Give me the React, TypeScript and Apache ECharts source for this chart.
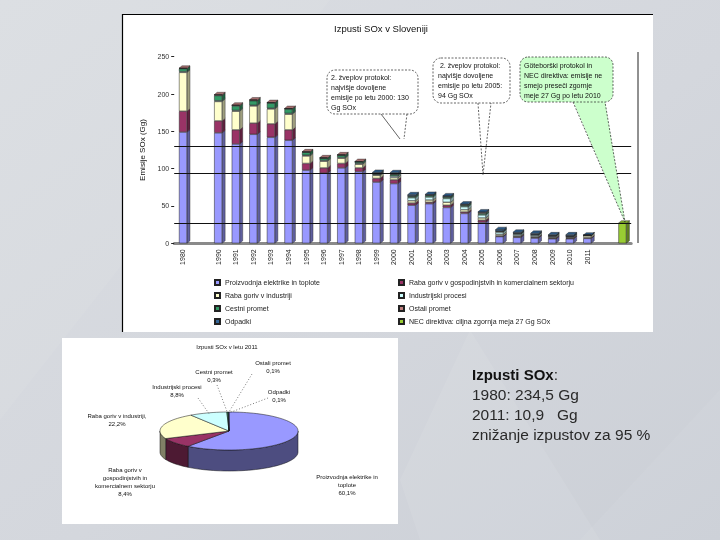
import React, { useEffect, useRef } from 'react';
import * as echarts from 'echarts';

// ---------- data ----------
const categories = ['1980', 'gapA', '1990', '1991', '1992', '1993', '1994', '1995', '1996', '1997', '1998', '1999', '2000', '2001', '2002', '2003', '2004', '2005', '2006', '2007', '2008', '2009', '2010', '2011', 'gapB', 'NEC'];

// values per year: 1980, 1990 ... 2011 (Gg SOx)
const proizvodnja = [149, 148, 133, 146, 142, 138, 98, 94, 101, 96, 82, 80, 51, 53, 48, 40, 28, 9, 8, 7, 6, 6, 6.55];
const gospodinjstva = [28, 16, 19, 15, 18, 14, 9, 7, 6, 5, 5, 5, 3, 2, 3, 2, 3, 1, 1, 1, 1, 1, 0.92];
const industrija = [52, 26, 25, 23, 20, 21, 10, 9, 7, 5, 4, 3, 3, 3, 4, 3, 3, 2, 1, 1, 1, 1, 2.42];
const procesi = [1, 1, 1, 1, 1, 1, 1, 1, 1, 1, 1, 2, 4, 4, 5, 4, 4, 3, 2, 2, 1.5, 1, 0.96];
const cestni = [4, 7, 6, 6, 7, 6, 4, 3, 3, 2, 1, 2, 2, 2, 2, 2, 2, 1, 1, 0.5, 0.5, 0.5, 0.03];
const ostali = [0.5, 1, 1, 1, 0.5, 0.5, 0.5, 0.5, 0.5, 0.5, 0.5, 0.5, 0.5, 0.5, 0.5, 0.5, 1, 0.3, 0.3, 0.3, 0.3, 0.3, 0.01];
const odpadki = [0, 0, 0, 0, 0, 0, 0, 0, 0, 0, 1.5, 2, 1.5, 1, 1, 1, 1, 2, 1.5, 1.5, 1, 1.5, 0.01];
const necTarget = 27;
const limits = [130, 94, 27];

const seriesNames = [
  'Proizvodnja elektrike in toplote',
  'Raba goriv v gospodinjstvih in komercialnem sektorju',
  'Raba goriv v industriji',
  'Industrijski procesi',
  'Cestni promet',
  'Ostali promet',
  'Odpadki',
];
const necName = 'NEC direktiva: ciljna zgornja meja 27 Gg SOx';
const colors = ['#9999FF', '#993366', '#FFFFCC', '#CCFFFF', '#339966', '#C08080', '#336699'];
const necColor = '#99CC33';

// pie 2011 (%)
const pieShares = [60.1, 8.4, 22.2, 8.8, 0.3, 0.1, 0.1];
const pieLabelLines = [
  ['Proizvodnja elektrike in', 'toplote'],
  ['Raba goriv v', 'gospodinjstvih in', 'komercialnem sektorju'],
  ['Raba goriv v industriji,'],
  ['Industrijski procesi'],
  ['Cestni promet'],
  ['Ostali promet'],
  ['Odpadki'],
];

// ---------- layout (not data) ----------
const pieLabelPos = [
  { x: 347, y: 473, lx: null, ly: null },
  { x: 125, y: 466, lx: null, ly: null },
  { x: 117, y: 412, lx: null, ly: null },
  { x: 177, y: 383, lx: 198, ly: 398 },
  { x: 214, y: 368, lx: 217, ly: 385 },
  { x: 273, y: 359, lx: 252, ly: 374 },
  { x: 279, y: 388, lx: 268, ly: 398 },
];
const PIE = { cx: 229, cy: 431, rx: 69, ry: 19, depth: 21 };
const BAR_W = 8;
const DEPTH_X = 3;
const DEPTH_Y = 2.5;

function toSlots(arr: number[]) {
  return [arr[0], null, ...arr.slice(1), null, null];
}

function shade(hex: string, f: number) {
  const n = parseInt(hex.slice(1), 16);
  const r = Math.round(((n >> 16) & 255) * f);
  const g = Math.round(((n >> 8) & 255) * f);
  const b = Math.round((n & 255) * f);
  return `rgb(${r},${g},${b})`;
}

function arcPts(a0: number, a1: number, dy: number) {
  const pts: number[][] = [];
  const n = Math.max(2, Math.ceil(Math.abs(a1 - a0) / 3));
  for (let i = 0; i <= n; i++) {
    const a = ((a0 + ((a1 - a0) * i) / n) * Math.PI) / 180;
    pts.push([PIE.cx + PIE.rx * Math.cos(a), PIE.cy + PIE.ry * Math.sin(a) + dy]);
  }
  return pts;
}

export default function App() {
  const ref = useRef<HTMLDivElement>(null);
  useEffect(() => {
    if (!ref.current) return;
    const chart = echarts.init(ref.current, undefined, { renderer: 'svg' });
    const font = 'Liberation Sans, Arial, sans-serif';

    const stacks = [proizvodnja, gospodinjstva, industrija, procesi, cestni, ostali, odpadki];
    const slotStacks = stacks.map(toSlots);
    const necSlots = categories.map((c) => (c === 'NEC' ? necTarget : null));
    const allSlots = [...slotStacks, necSlots];
    const allColors = [...colors, necColor];

    const barSeries: any[] = allSlots.map((arr, i) => ({
      name: i < 7 ? seriesNames[i] : necName,
      type: 'bar',
      stack: 'sox',
      barWidth: BAR_W,
      data: arr,
      itemStyle: { color: allColors[i], borderColor: '#222', borderWidth: 0.5 },
      z: 3,
      ...(i === 0
        ? {
            markLine: {
              silent: true,
              symbol: ['none', 'none'],
              label: { show: false },
              lineStyle: { color: '#111', width: 1, type: 'solid' },
              data: limits.map((v) => ({ yAxis: v })),
            },
          }
        : {}),
    }));

    // 3D side / top faces of the stacked bars, computed from the same values
    const depthData: any[] = [];
    categories.forEach((_, j) => {
      const vals = allSlots.map((a) => (a[j] == null ? 0 : (a[j] as number)));
      if (vals.some((v) => v > 0)) depthData.push([j, ...vals]);
    });
    const depthSeries = {
      type: 'custom',
      name: 'depth',
      silent: true,
      z: 2,
      data: depthData,
      encode: { x: 0, y: 1 },
      renderItem: (params: any, api: any) => {
        const j = api.value(0);
        const children: any[] = [];
        let base = 0;
        let topIdx = -1;
        let xr = 0;
        for (let k = 0; k < allSlots.length; k++) {
          const v = api.value(k + 1);
          if (!v) continue;
          const p0 = api.coord([j, base]);
          const p1 = api.coord([j, base + v]);
          xr = p0[0] + BAR_W / 2;
          children.push({
            type: 'polygon',
            shape: { points: [[xr, p1[1]], [xr + DEPTH_X, p1[1] - DEPTH_Y], [xr + DEPTH_X, p0[1] - DEPTH_Y], [xr, p0[1]]] },
            style: { fill: shade(allColors[k], 0.62), stroke: '#222', lineWidth: 0.4 },
          });
          base += v;
          topIdx = k;
        }
        if (topIdx >= 0) {
          const pt = api.coord([j, base]);
          const xl = pt[0] - BAR_W / 2;
          children.push({
            type: 'polygon',
            shape: { points: [[xl, pt[1]], [xl + DEPTH_X, pt[1] - DEPTH_Y], [xr + DEPTH_X, pt[1] - DEPTH_Y], [xr, pt[1]]] },
            style: { fill: shade(allColors[topIdx], 0.85), stroke: '#222', lineWidth: 0.4 },
          });
        }
        return { type: 'group', children };
      },
    };

    const total = pieShares.reduce((a, b) => a + b, 0);
    const cum: number[] = [];
    pieShares.reduce((acc, v, i) => {
      cum[i] = acc;
      return acc + v;
    }, 0);
    const pieData = pieShares.map((v, i) => [v, cum[i]]);

    const angles = (api: any) => {
      const v = api.value(0);
      const c = api.value(1);
      const a0 = -90 + (360 * c) / total;
      const a1 = a0 + (360 * v) / total;
      return [a0, a1];
    };

    const pieSide = {
      type: 'custom',
      name: 'pieSide',
      coordinateSystem: 'none',
      silent: true,
      z: 3,
      data: pieData,
      renderItem: (params: any, api: any) => {
        const [a0, a1] = angles(api);
        const s = Math.max(a0, 0);
        const e = Math.min(a1, 180);
        if (s >= e) return { type: 'group', children: [] };
        const pts = [...arcPts(s, e, 0), ...arcPts(s, e, PIE.depth).reverse()];
        return {
          type: 'polygon',
          shape: { points: pts },
          style: { fill: shade(colors[params.dataIndex], 0.5), stroke: '#111', lineWidth: 0.5 },
        };
      },
    };

    const pieTop = {
      type: 'custom',
      name: 'pieTop',
      coordinateSystem: 'none',
      silent: true,
      z: 4,
      data: pieData,
      renderItem: (params: any, api: any) => {
        const i = params.dataIndex;
        const [a0, a1] = angles(api);
        const pts = [[PIE.cx, PIE.cy], ...arcPts(a0, a1, 0)];
        const children: any[] = [
          {
            type: 'polygon',
            shape: { points: pts },
            style: { fill: colors[i], stroke: '#111', lineWidth: 0.5 },
          },
        ];
        const pos = pieLabelPos[i];
        const pct = api.value(0).toFixed(1).replace('.', ',') + '%';
        children.push({
          type: 'text',
          style: {
            text: [...pieLabelLines[i], pct].join('\n'),
            x: pos.x,
            y: pos.y,
            align: 'center',
            verticalAlign: 'top',
            fontSize: 6,
            lineHeight: 8,
            fontFamily: font,
            fill: '#111',
          },
        });
        if (pos.lx != null) {
          const mid = (((a0 + a1) / 2) * Math.PI) / 180;
          children.push({
            type: 'line',
            shape: {
              x1: pos.lx,
              y1: pos.ly,
              x2: PIE.cx + PIE.rx * 0.95 * Math.cos(mid),
              y2: PIE.cy + PIE.ry * 0.95 * Math.sin(mid),
            },
            style: { stroke: '#222', lineWidth: 0.6, lineDash: [1, 2] },
          });
        }
        return { type: 'group', children };
      },
    };

    const calloutText = (x: number, y: number, text: string) => ({
      type: 'text',
      z: 101,
      style: { text, x, y, fontSize: 7, lineHeight: 10, fontFamily: font, fill: '#111', align: 'left', verticalAlign: 'top' },
    });
    const dashed = { stroke: '#222', lineWidth: 0.7, lineDash: [2, 1.5] };

    const graphics: any[] = [
      // slide background
      {
        type: 'rect', z: -100, shape: { x: 0, y: 0, width: 720, height: 540 },
        style: {
          fill: { type: 'linear', x: 0, y: 0, x2: 1, y2: 1, colorStops: [
            { offset: 0, color: '#DADDE2' }, { offset: 0.55, color: '#D4D7DD' }, { offset: 1, color: '#CBCFD6' },
          ] },
        },
      },
      { type: 'polygon', z: -99, shape: { points: [[0, 0], [330, 0], [0, 420]] }, style: { fill: 'rgba(255,255,255,0.06)' } },
      { type: 'polygon', z: -99, shape: { points: [[470, 330], [400, 480], [420, 540], [600, 540]] }, style: { fill: 'rgba(255,255,255,0.08)' } },
      { type: 'polygon', z: -99, shape: { points: [[720, 390], [580, 540], [720, 540]] }, style: { fill: 'rgba(255,255,255,0.05)' } },
      // panels
      { type: 'rect', z: -50, shape: { x: 122, y: 14, width: 531, height: 318 }, style: { fill: '#FFFFFF' } },
      { type: 'polyline', z: -49, shape: { points: [[122.5, 332], [122.5, 14.5], [653, 14.5]] }, style: { stroke: '#000', lineWidth: 1.2, fill: null } },
      { type: 'rect', z: -50, shape: { x: 62, y: 338, width: 336, height: 186 }, style: { fill: '#FFFFFF' } },
      // right wall of the bar chart
      { type: 'line', z: -40, shape: { x1: 638, y1: 52, x2: 638, y2: 243 }, style: { stroke: '#222', lineWidth: 1 } },
      // callout 1
      { type: 'rect', z: 100, shape: { x: 327, y: 70, width: 91, height: 44, r: 8 }, style: { fill: '#FFFFFF', ...dashed } },
      { type: 'polyline', z: 100, shape: { points: [[381, 114], [400, 139]] }, style: { stroke: '#222', lineWidth: 0.7, fill: null } },
      { type: 'polyline', z: 100, shape: { points: [[407, 114], [404, 139]] }, style: { ...dashed, fill: null } },
      calloutText(331, 72, '2. žveplov protokol:\nnajvišje dovoljene\nemisije po letu 2000: 130\nGg SOx'),
      // callout 2
      { type: 'rect', z: 100, shape: { x: 433, y: 58, width: 77, height: 45, r: 8 }, style: { fill: '#FFFFFF', ...dashed } },
      { type: 'polyline', z: 100, shape: { points: [[478, 103], [483, 175], [491, 103]] }, style: { ...dashed, fill: null } },
      calloutText(438, 60, ' 2. žveplov protokol:\nnajvišje dovoljene\nemisije po letu 2005:\n94 Gg SOx'),
      // callout 3 (green)
      { type: 'polygon', z: 99, shape: { points: [[573, 101], [625, 222], [605, 101]] }, style: { fill: '#CCFFCC' } },
      { type: 'polyline', z: 100, shape: { points: [[573, 102], [625, 222], [605, 102]] }, style: { ...dashed, fill: null } },
      { type: 'rect', z: 100, shape: { x: 520, y: 57, width: 93, height: 45, r: 8 }, style: { fill: '#CCFFCC', ...dashed } },
      calloutText(524, 60, 'Göteborški protokol in\nNEC direktiva: emisije ne\nsmejo preseči zgornje\nmeje 27 Gg po letu 2010'),
      // pie title
      { type: 'text', z: 100, style: { text: 'Izpusti SOx v letu 2011', x: 227, y: 344, align: 'center', verticalAlign: 'top', fontSize: 6, fontFamily: font, fill: '#111' } },
      // right side text
      {
        type: 'text', z: 100,
        style: {
          text: '{b|Izpusti SOx}{r|:}\n{r|1980: 234,5 Gg}\n{r|2011: 10,9   Gg}\n{r|znižanje izpustov za 95 %}',
          x: 472, y: 364, align: 'left', verticalAlign: 'top', fill: '#222',
          rich: {
            b: { fontSize: 15, fontWeight: 'bold', fontFamily: font, fill: '#111', lineHeight: 20 },
            r: { fontSize: 15.5, fontFamily: font, fill: '#2a2a2a', lineHeight: 20 },
          },
        },
      },
    ];

    const legendBase = {
      orient: 'vertical',
      top: 274,
      itemWidth: 5,
      itemHeight: 5,
      itemGap: 6,
      icon: 'rect',
      selectedMode: false,
      textStyle: { fontSize: 7, color: '#222', fontFamily: font },
    };
    const allNames = [...seriesNames, necName];

    chart.setOption({
      animation: false,
      textStyle: { fontFamily: font },
      title: {
        text: 'Izpusti SOx v Sloveniji',
        left: 334,
        top: 23,
        padding: 0,
        textStyle: { fontSize: 9.5, fontWeight: 'normal', color: '#111', fontFamily: font },
      },
      legend: [
        { ...legendBase, left: 209, data: allNames.filter((_, i) => i % 2 === 0) },
        { ...legendBase, left: 393, data: allNames.filter((_, i) => i % 2 === 1) },
      ],
      grid: { left: 174.2, top: 56.7, width: 457, height: 186.6 },
      xAxis: {
        type: 'category',
        data: categories,
        axisTick: { show: false },
        axisLine: { lineStyle: { color: '#8a8a8a', width: 3 } },
        axisLabel: {
          rotate: 90,
          interval: 0,
          fontSize: 7,
          margin: 6,
          color: '#222',
          formatter: (v: string) => (/^\d{4}$/.test(v) ? v : ''),
        },
      },
      yAxis: {
        type: 'value',
        min: 0,
        max: 250,
        interval: 50,
        name: 'Emisije SOx (Gg)',
        nameLocation: 'middle',
        nameGap: 23,
        nameTextStyle: { fontSize: 8, color: '#111' },
        axisLine: { show: false },
        axisTick: { show: true, length: 3, lineStyle: { color: '#222' } },
        splitLine: { show: false },
        axisLabel: { fontSize: 7, color: '#333', margin: 5 },
      },
      graphic: { elements: graphics },
      series: [...barSeries, depthSeries, pieSide, pieTop],
    });
    return () => chart.dispose();
  }, []);
  return <div ref={ref} style={{ position: 'fixed', left: 0, top: 0, width: 720, height: 540 }} />;
}
